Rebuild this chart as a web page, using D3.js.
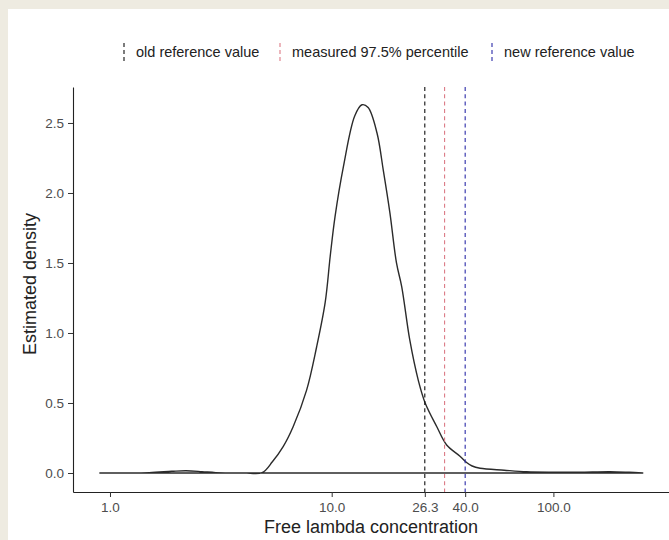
<!DOCTYPE html>
<html><head><meta charset="utf-8">
<script src="https://cdn.jsdelivr.net/npm/d3@7"></script>
<style>
html,body{margin:0;padding:0;background:#eeebe1;}
svg{display:block;}
text{font-family:"Liberation Sans",Arial,sans-serif;}
</style></head>
<body>
<svg id="chart" width="669" height="540"></svg>
<script>
// Density estimate
const densX = [0.90,1.5,1.9,2.2,2.6,3.0,4.0,4.85,5.4,6.05,6.7,7.7,8.55,9.35,9.85,10.35,11.3,12.7,13.7,14.6,16.0,17.1,18.3,19.6,20.7,22.5,24.6,26.4,29.8,33.0,37.9,40.6,43.0,46.7,60,75.8,100,131,180,220,253];
const densY = [0.0,0.003,0.012,0.016,0.01,0.003,0.001,0.002,0.08,0.19,0.33,0.59,0.90,1.22,1.55,1.83,2.19,2.55,2.63,2.61,2.43,2.16,1.86,1.50,1.33,0.95,0.66,0.50,0.33,0.20,0.12,0.075,0.05,0.034,0.02,0.009,0.006,0.006,0.01,0.005,0.0];
// Reference lines
const refNames = ["old reference value","measured 97.5% percentile","new reference value"];
const refValues = [26.3, 32.3, 40.0];
const refColors = ["#111111","#dc7b86","#2a2aa8"];
// Axis ticks
const xTicks = [1, 10, 26.3, 40, 100];
const xTickLabels = ["1.0","10.0","26.3","40.0","100.0"];
const yTicks = [0, 0.5, 1.0, 1.5, 2.0, 2.5];
const yTickLabels = ["0.0","0.5","1.0","1.5","2.0","2.5"];

const svg = d3.select("#chart");
// white plot background
svg.append("rect").attr("x",8).attr("y",9).attr("width",661).attr("height",531).attr("fill","#ffffff");

const x = d3.scaleLog().domain([0.681, 335.7]).range([73, 670]);
const y = d3.scaleLinear().domain([-0.1357, 2.757]).range([492, 87]);

// density polygon
const pts = densX.map((d,i)=>[x(d), y(densY[i])]);
const line = d3.line().curve(d3.curveCatmullRom.alpha(0.5));
const pathStr = line(pts) + "Z";
svg.append("path").attr("d", pathStr).attr("fill","none")
  .attr("stroke","#2b2b2b").attr("stroke-width",1.4).attr("stroke-linejoin","round");

// reference lines
refValues.forEach((v,i)=>{
  svg.append("line").attr("x1",x(v)).attr("x2",x(v)).attr("y1",87).attr("y2",492)
    .attr("stroke",refColors[i]).attr("stroke-width",1.1).attr("stroke-dasharray","4,3.3");
});

// axes
const xAxis = d3.axisBottom(x).tickValues(xTicks).tickFormat((d,i)=>xTickLabels[i]).tickSize(5).tickPadding(5).tickSizeOuter(0);
const gx = svg.append("g").attr("transform","translate(0,492)").call(xAxis);
const yAxis = d3.axisLeft(y).tickValues(yTicks).tickFormat((d,i)=>yTickLabels[i]).tickSize(5).tickPadding(4).tickSizeOuter(0);
const gy = svg.append("g").attr("transform","translate(73,0)").call(yAxis);
[gx,gy].forEach(g=>{
  g.select(".domain").attr("stroke","#222").attr("stroke-width",1.1);
  g.selectAll(".tick line").attr("stroke","#333").attr("stroke-width",1);
  g.selectAll(".tick text").attr("fill","#4d4d4d").style("font-size","13.5px").style("font-family","'Liberation Sans',Arial,sans-serif");
});

// axis titles
svg.append("text").attr("x",371).attr("y",533).attr("text-anchor","middle")
  .style("font-size","18px").attr("fill","#222").text("Free lambda concentration");
svg.append("text").attr("transform","translate(36,284) rotate(-90)").attr("text-anchor","middle")
  .style("font-size","18px").attr("fill","#222").text("Estimated density");

// legend
const legX = [124, 280, 492];
refNames.forEach((n,i)=>{
  svg.append("line").attr("x1",legX[i]).attr("x2",legX[i]).attr("y1",43).attr("y2",62)
    .attr("stroke",refColors[i]).attr("stroke-width",1.1).attr("stroke-dasharray","4,3");
  svg.append("text").attr("x",legX[i]+12).attr("y",57).style("font-size","14.5px").attr("fill","#222").text(n);
});
</script>
</body></html>
